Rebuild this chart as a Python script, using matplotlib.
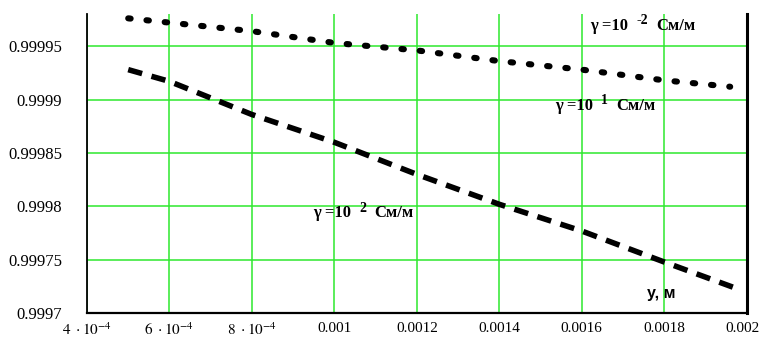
import matplotlib
matplotlib.use('Agg')
from matplotlib import pyplot as plt
from matplotlib import transforms
import numpy as np

# y, m
x_dotted = [5e-4, 6e-4, 8e-4, 1e-3, 1.2e-3, 1.4e-3, 1.6e-3, 1.8e-3, 1.96e-3]
y_dotted = [0.999976, 0.999972, 0.999964, 0.999953, 0.999946, 0.999936, 0.999928, 0.999918, 0.999912]

x_dashed = [5e-4, 6e-4, 8e-4, 1e-3, 1.2e-3, 1.4e-3, 1.6e-3, 1.8e-3, 1.984e-3]
y_dashed = [0.999928, 0.999917, 0.999886, 0.999860, 0.999830, 0.999802, 0.999777, 0.999748, 0.999722]

x_ticks = [4e-4, 6e-4, 8e-4, 1e-3, 1.2e-3, 1.4e-3, 1.6e-3, 1.8e-3, 2e-3]
x_tick_labels = [r'$4\ \cdot 10^{-4}$', r'$6\ \cdot 10^{-4}$', r'$8\ \cdot 10^{-4}$',
                 '0.001', '0.0012', '0.0014', '0.0016', '0.0018', '0.002']
y_ticks = [0.9997, 0.99975, 0.9998, 0.99985, 0.9999, 0.99995]
y_tick_labels = ['0.9997', '0.99975', '0.9998', '0.99985', '0.9999', '0.99995']

# label: (x, y, exponent)
gamma_labels = [
    (0.00162, 0.9999687, '-2'),
    (0.001535, 0.999894, '1'),
    (0.000948, 0.9997934, '2'),
]

plt.rcParams['font.family'] = ['Liberation Serif', 'DejaVu Serif']
plt.rcParams['mathtext.fontset'] = 'stix'

GREEN = '#2ee82e'


def gamma_label(ax, x, y, exp):
    base = ax.text(x, y, 'γ =10', fontsize=12, fontweight='bold', va='center', ha='left')
    sup = ax.annotate(exp, xy=(1, 0), xycoords=base, xytext=(6, 5),
                      textcoords='offset points', fontsize=10, fontweight='bold',
                      ha='left', va='bottom')
    ax.annotate('См/м', xy=(1, 0), xycoords=(sup, base), xytext=(6, 0),
                textcoords='offset points', fontsize=12, fontweight='bold',
                ha='left', va='bottom')


def main():
    fig = plt.figure(figsize=(7.63, 3.43), dpi=100)
    ax = fig.add_axes([0.114, 0.0866, 0.8646, 0.8724])

    ax.plot(x_dotted, y_dotted, color='black', lw=4.4, dashes=(0.4, 2.6),
            dash_capstyle='round')
    ax.plot(x_dashed, y_dashed, color='black', lw=4.0, dashes=(2.6, 1.75),
            dash_capstyle='butt')

    ax.set_xlim(4e-4, 2e-3)
    ax.set_ylim(0.9997, 0.99998)
    ax.set_xticks(x_ticks)
    ax.set_xticklabels(x_tick_labels)
    ax.set_yticks(y_ticks)
    ax.set_yticklabels(y_tick_labels)
    ax.tick_params(axis='both', length=0)
    ax.tick_params(axis='x', pad=6, labelsize=11)
    ax.tick_params(axis='y', pad=18, labelsize=12)

    # last label would run off the right edge
    last = ax.get_xticklabels()[-1]
    last.set_transform(last.get_transform() +
                       transforms.ScaledTranslation(-3 / 72, 0, fig.dpi_scale_trans))

    ax.grid(True, color=GREEN, lw=1.1)
    ax.set_axisbelow(True)

    ax.spines['top'].set_visible(False)
    ax.spines['left'].set_linewidth(1.3)
    ax.spines['bottom'].set_linewidth(1.6)
    ax.spines['right'].set_linewidth(2.2)

    for x, y, exp in gamma_labels:
        gamma_label(ax, x, y, exp)

    ax.text(0.001758, 0.9997187, 'у, м', fontsize=11.5, fontweight='bold',
            family=['Liberation Sans'], va='center', ha='left')

    fig.savefig('out.png', dpi=100)


if __name__ == '__main__':
    main()
